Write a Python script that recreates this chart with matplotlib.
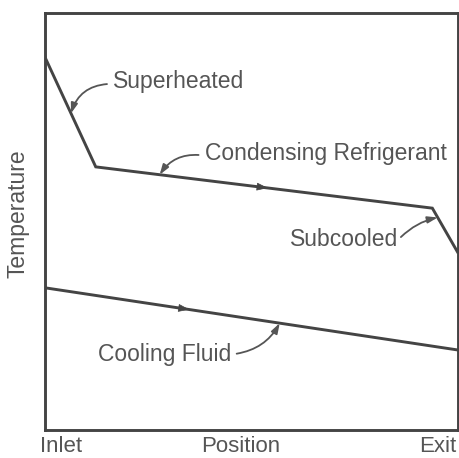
import numpy as np
import matplotlib
matplotlib.use("Agg")
import matplotlib.pyplot as plt

# Refrigerant temperature profile (position 0 = inlet, 1 = exit)
refrig_x = [0.0, 0.123, 0.939, 1.0]
refrig_y = [0.894, 0.631, 0.532, 0.427]

# Cooling fluid temperature profile
cool_x = [0.0, 1.0]
cool_y = [0.341, 0.192]

# Label text, where it sits, and the x along the curve its leader points to
labels = ["Superheated", "Condensing Refrigerant", "Subcooled", "Cooling Fluid"]
label_pos = [(0.165, 0.835), (0.387, 0.664), (0.593, 0.458), (0.128, 0.182)]
label_tip_x = [0.063, 0.278, 0.952, 0.569]
label_curve = ["refrig", "refrig", "refrig", "cool"]

# flow direction arrows along the lines
flow_arrow_x = [0.54, 0.35]
flow_curve = ["refrig", "cool"]

LINE = "#444444"
TXT = "#555555"
FONT = "Liberation Sans"

W, H = 459, 458
fig = plt.figure(figsize=(W / 100, H / 100), dpi=100)
ax = fig.add_axes([45 / W, (H - 430) / H, (457.5 - 45) / W, (430 - 13) / H])
ax.set_xlim(0, 1)
ax.set_ylim(0, 1)
ax.set_xticks([])
ax.set_yticks([])
for s in ax.spines.values():
    s.set_linewidth(2.1)
    s.set_color(LINE)

ax.plot(refrig_x, refrig_y, color=LINE, lw=2.1, solid_joinstyle="miter")
ax.plot(cool_x, cool_y, color=LINE, lw=2.1)

curves = {"refrig": (refrig_x, refrig_y), "cool": (cool_x, cool_y)}

for fx, name in zip(flow_arrow_x, flow_curve):
    cx, cy = curves[name]
    y0 = np.interp(fx - 0.03, cx, cy)
    y1 = np.interp(fx, cx, cy)
    ax.annotate("", xy=(fx, y1), xytext=(fx - 0.03, y0),
                arrowprops=dict(arrowstyle="-|>,head_length=0.7,head_width=0.25",
                                color=LINE, lw=0.5, shrinkA=0, shrinkB=0))

rads = [0.35, 0.3, -0.15, 0.25]
for txt, (tx, ty), tipx, name, rad in zip(labels, label_pos, label_tip_x, label_curve, rads):
    cx, cy = curves[name]
    tipy = np.interp(tipx, cx, cy)
    ax.text(tx, ty, txt, fontsize=16.5, family=FONT, color=TXT,
            ha="left", va="center")
    if txt == "Subcooled":
        start = (tx + 0.265, ty)
    elif txt == "Cooling Fluid":
        start = (tx + 0.33, ty)
    else:
        start = (tx - 0.008, ty - 0.005)
    ax.annotate("", xy=(tipx, tipy), xytext=start,
                arrowprops=dict(arrowstyle="-|>,head_length=0.6,head_width=0.2",
                                color=TXT, lw=1.3,
                                connectionstyle=f"arc3,rad={rad}",
                                shrinkA=2, shrinkB=0))

fig.text(18 / W, 1 - 214 / H, "Temperature", rotation=90, fontsize=16.5,
         family=FONT, color=TXT, ha="center", va="center")
fig.text(40 / W, 1 - 447 / H, "Inlet", fontsize=16, family=FONT, color=TXT,
         ha="left", va="center")
fig.text(241 / W, 1 - 447 / H, "Position", fontsize=16, family=FONT, color=TXT,
         ha="center", va="center")
fig.text(456 / W, 1 - 447 / H, "Exit", fontsize=16, family=FONT, color=TXT,
         ha="right", va="center")

fig.savefig("out.png", dpi=100)
